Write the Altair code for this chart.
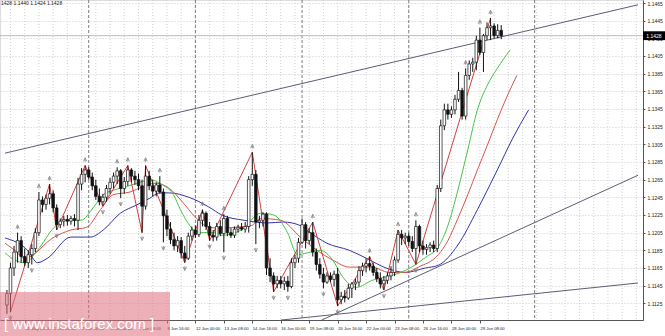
import altair as alt
import pandas as pd

# ---------------- data (H4 candles) ----------------
opens = [1.1123,1.1136,1.1165,1.1183,1.1196,1.1178,1.1171,1.1180,1.1187,1.1205,
         1.1242,1.1237,1.1244,1.1249,1.1233,1.1214,1.1218,1.1220,1.1218,1.1221,
         1.1219,1.1260,1.1271,1.1276,1.1268,1.1258,1.1246,1.1240,1.1245,1.1255,
         1.1262,1.1269,1.1275,1.1255,1.1263,1.1276,1.1269,1.1265,1.1258,1.1235,
         1.1269,1.1258,1.1252,1.1259,1.1251,1.1224,1.1209,1.1197,1.1190,1.1196,
         1.1182,1.1176,1.1201,1.1208,1.1203,1.1219,1.1227,1.1212,1.1202,1.1200,
         1.1212,1.1204,1.1221,1.1205,1.1202,1.1209,1.1211,1.1209,1.1212,1.1265,
         1.1271,1.1217,1.1219,1.1226,1.1165,1.1156,1.1147,1.1151,1.1147,1.1150,
         1.1144,1.1171,1.1176,1.1194,1.1214,1.1196,1.1205,1.1183,1.1169,1.1158,
         1.1149,1.1156,1.1152,1.1158,1.1129,1.1133,1.1131,1.1142,1.1147,1.1149,
         1.1162,1.1167,1.1170,1.1167,1.1160,1.1153,1.1147,1.1151,1.1156,1.1160,
         1.1174,1.1203,1.1199,1.1201,1.1195,1.1187,1.1212,1.1190,1.1186,1.1188,
         1.1191,1.1187,1.1255,1.1326,1.1344,1.1339,1.1344,1.1356,1.1366,1.1337,
         1.1383,1.1396,1.1398,1.1423,1.1409,1.1428,1.1437,1.1439,1.1428,1.1434]
highs = [1.1140,1.1171,1.1190,1.1205,1.1201,1.1187,1.1185,1.1192,1.1210,1.1251,
         1.1246,1.1248,1.1260,1.1253,1.1237,1.1221,1.1224,1.1225,1.1224,1.1226,
         1.1267,1.1278,1.1281,1.1279,1.1273,1.1265,1.1255,1.1249,1.1259,1.1267,
         1.1273,1.1279,1.1277,1.1268,1.1281,1.1278,1.1275,1.1272,1.1265,1.1281,
         1.1275,1.1265,1.1262,1.1269,1.1255,1.1231,1.1217,1.1205,1.1201,1.1200,
         1.1190,1.1205,1.1212,1.1213,1.1225,1.1231,1.1229,1.1217,1.1208,1.1216,
         1.1219,1.1226,1.1224,1.1210,1.1212,1.1214,1.1216,1.1217,1.1269,1.1296,
         1.1276,1.1224,1.1228,1.1228,1.1176,1.1160,1.1156,1.1156,1.1155,1.1156,
         1.1176,1.1180,1.1199,1.1221,1.1217,1.1210,1.1217,1.1187,1.1176,1.1165,
         1.1160,1.1160,1.1162,1.1165,1.1138,1.1140,1.1147,1.1149,1.1153,1.1167,
         1.1171,1.1176,1.1178,1.1171,1.1165,1.1160,1.1156,1.1160,1.1167,1.1178,
         1.1208,1.1208,1.1205,1.1205,1.1201,1.1219,1.1214,1.1196,1.1192,1.1194,
         1.1196,1.1259,1.1333,1.1351,1.1351,1.1348,1.1361,1.1387,1.1369,1.1391,
         1.1400,1.1403,1.1428,1.1437,1.1430,1.1443,1.1448,1.1442,1.1441,1.1440]
lows = [1.1113,1.1115,1.1156,1.1171,1.1171,1.1167,1.1165,1.1169,1.1183,1.1201,
        1.1228,1.1231,1.1237,1.1228,1.1208,1.1210,1.1212,1.1213,1.1214,1.1212,
        1.1208,1.1253,1.1262,1.1265,1.1253,1.1242,1.1236,1.1235,1.1240,1.1249,
        1.1255,1.1260,1.1244,1.1249,1.1258,1.1262,1.1259,1.1253,1.1205,1.1231,
        1.1253,1.1246,1.1246,1.1249,1.1194,1.1201,1.1192,1.1185,1.1183,1.1176,
        1.1171,1.1174,1.1196,1.1199,1.1200,1.1212,1.1208,1.1196,1.1195,1.1196,
        1.1201,1.1183,1.1201,1.1199,1.1199,1.1205,1.1207,1.1205,1.1205,1.1258,
        1.1192,1.1210,1.1212,1.1157,1.1149,1.1138,1.1142,1.1142,1.1140,1.1138,
        1.1142,1.1165,1.1171,1.1192,1.1187,1.1192,1.1178,1.1162,1.1153,1.1142,
        1.1147,1.1149,1.1144,1.1122,1.1124,1.1126,1.1129,1.1131,1.1140,1.1144,
        1.1156,1.1160,1.1162,1.1156,1.1149,1.1142,1.1140,1.1147,1.1151,1.1156,
        1.1171,1.1191,1.1192,1.1190,1.1183,1.1169,1.1183,1.1180,1.1180,1.1183,
        1.1183,1.1183,1.1251,1.1321,1.1333,1.1335,1.1339,1.1353,1.1333,1.1333,
        1.1378,1.1387,1.1389,1.1406,1.1387,1.1423,1.1423,1.1425,1.1425,1.1424]
closes = [1.1136,1.1165,1.1183,1.1196,1.1178,1.1171,1.1180,1.1187,1.1205,1.1242,
          1.1237,1.1244,1.1249,1.1233,1.1214,1.1218,1.1220,1.1218,1.1221,1.1219,
          1.1260,1.1271,1.1276,1.1268,1.1258,1.1246,1.1240,1.1245,1.1255,1.1262,
          1.1269,1.1275,1.1255,1.1263,1.1276,1.1269,1.1265,1.1258,1.1235,1.1269,
          1.1258,1.1252,1.1259,1.1251,1.1224,1.1209,1.1197,1.1190,1.1196,1.1182,
          1.1176,1.1201,1.1208,1.1203,1.1219,1.1227,1.1212,1.1202,1.1200,1.1212,
          1.1204,1.1221,1.1205,1.1202,1.1209,1.1211,1.1209,1.1212,1.1265,1.1271,
          1.1217,1.1219,1.1226,1.1165,1.1156,1.1147,1.1151,1.1147,1.1150,1.1144,
          1.1171,1.1176,1.1194,1.1214,1.1196,1.1205,1.1183,1.1169,1.1158,1.1149,
          1.1156,1.1152,1.1158,1.1129,1.1133,1.1131,1.1142,1.1147,1.1149,1.1162,
          1.1167,1.1170,1.1167,1.1160,1.1153,1.1147,1.1151,1.1156,1.1160,1.1174,
          1.1203,1.1199,1.1201,1.1195,1.1187,1.1212,1.1190,1.1186,1.1188,1.1191,
          1.1187,1.1255,1.1326,1.1344,1.1339,1.1344,1.1356,1.1366,1.1337,1.1383,
          1.1396,1.1398,1.1423,1.1409,1.1428,1.1437,1.1439,1.1428,1.1434,1.1428]

tick_bars = [5, 13, 21, 29, 37, 45, 53, 61, 69, 77, 85, 93, 101, 109, 117, 125, 133]
tick_labels = ["31 May 00:00", "1 Jun 08:00", "2 Jun 16:00", "6 Jun 00:00", "7 Jun 08:00",
               "8 Jun 16:00", "12 Jun 00:00", "13 Jun 08:00", "14 Jun 16:00", "16 Jun 00:00",
               "19 Jun 08:00", "20 Jun 16:00", "22 Jun 00:00", "23 Jun 08:00", "26 Jun 16:00",
               "28 Jun 00:00", "29 Jun 08:00"]
price_ticks = [1.1105, 1.1125, 1.1145, 1.1165, 1.1185, 1.1205, 1.1225, 1.1245, 1.1265, 1.1285,
               1.1305, 1.1325, 1.1345, 1.1365, 1.1385, 1.1405, 1.1425, 1.1445, 1.1465]

up_fractals = [3, 9, 12, 22, 31, 34, 39, 43, 55, 61, 69, 86, 102, 110, 115, 129, 133, 136]
down_fractals = [1, 7, 14, 27, 32, 38, 44, 50, 57, 61, 70, 75, 79, 89, 93, 106, 115]

zigzag_bars = [1, 12, 14, 22, 27, 34, 38, 39, 50, 55, 57, 69, 75, 86, 93, 102, 106, 110, 115, 136]
zigzag_prices = [1.1115, 1.1260, 1.1208, 1.1281, 1.1235, 1.1281, 1.1205, 1.1281, 1.1171, 1.1231,
                 1.1196, 1.1296, 1.1138, 1.1217, 1.1122, 1.1178, 1.1140, 1.1208, 1.1169, 1.1448]

# Alligator (jaw blue, teeth red, lips green), shifted forward
jaw_bars = [-0.5, 5.8, 8.6, 11.4, 18.0, 23.5, 27.1, 31.9, 36.3, 40.2, 42.9, 45.7, 51.2, 56.8, 60.4,
            66.7, 73.4, 77.8, 82.5, 85.3, 90.0, 96.3, 101.1, 106.6, 112.1, 117.7, 121.3, 126.8,
            132.3, 137.9, 142.0, 146.7]
jaw_prices = [1.1199, 1.1185, 1.1171, 1.1176, 1.1200, 1.1200, 1.1208, 1.1227, 1.1236, 1.1244,
              1.1250, 1.1250, 1.1245, 1.1234, 1.1225, 1.1219, 1.1216, 1.1217, 1.1213, 1.1205,
              1.1193, 1.1185, 1.1176, 1.1165, 1.1160, 1.1165, 1.1168, 1.1191, 1.1231, 1.1276,
              1.1310, 1.1344]
teeth_bars = [-0.5, 2.2, 5.0, 13.3, 18.0, 22.4, 26.3, 29.9, 34.6, 38.2, 41.8, 45.7, 49.3, 52.9,
              56.8, 60.4, 64.0, 68.7, 71.4, 77.0, 82.5, 87.2, 91.6, 96.3, 102.7, 107.4, 112.1,
              115.7, 121.3, 124.0, 126.8, 129.6, 132.3, 135.1, 137.9, 140.6, 143.4]
teeth_prices = [1.1193, 1.1185, 1.1176, 1.1200, 1.1208, 1.1211, 1.1231, 1.1248, 1.1251, 1.1257,
                1.1261, 1.1255, 1.1240, 1.1223, 1.1211, 1.1210, 1.1211, 1.1213, 1.1221, 1.1219,
                1.1200, 1.1185, 1.1174, 1.1166, 1.1166, 1.1160, 1.1160, 1.1166, 1.1180, 1.1196,
                1.1221, 1.1248, 1.1276, 1.1304, 1.1333, 1.1359, 1.1383]
lips_bars = [-0.5, 2.2, 5.0, 8.6, 13.3, 16.1, 20.8, 24.4, 27.1, 29.9, 33.5, 37.4, 40.2, 43.8,
             46.5, 49.3, 52.6, 54.8, 58.4, 60.4, 65.9, 71.4, 75.0, 78.9, 81.7, 84.4, 88.1, 91.6,
             94.4, 98.3, 102.7, 106.6, 110.2, 113.8, 117.7, 121.3, 124.0, 126.8, 129.6, 132.3,
             135.1, 137.9, 141.5]
lips_prices = [1.1182, 1.1174, 1.1171, 1.1185, 1.1211, 1.1219, 1.1219, 1.1234, 1.1248, 1.1253,
               1.1257, 1.1262, 1.1265, 1.1259, 1.1250, 1.1227, 1.1208, 1.1205, 1.1205, 1.1202,
               1.1208, 1.1227, 1.1225, 1.1205, 1.1180, 1.1182, 1.1185, 1.1174, 1.1155, 1.1143,
               1.1151, 1.1155, 1.1159, 1.1166, 1.1177, 1.1189, 1.1213, 1.1253, 1.1299, 1.1344,
               1.1372, 1.1391, 1.1412]

trend_a_bars = [-0.54, 177.46]
trend_a_prices = [1.1295, 1.1463]
trend_b_bars = [88.5, 177.46]
trend_b_prices = [1.1106, 1.1270]
trend_c_bars = [77.0, 177.46]
trend_c_prices = [1.1106, 1.1148]

separators = [23, 53, 83, 113, 148.4]
grid_bars = list(range(1, 178, 4))

current_price = 1.1428
header = "1428 1.1440 1.1424 1.1428"
watermark = "[ www.instaforex.com ]"

# ---------------- chart ----------------
XD = [-0.537, 177.46]
YD = [1.11061, 1.14684]
xs = alt.Scale(domain=XD, nice=False, zero=False)
ys = alt.Scale(domain=YD, nice=False, zero=False)
FONT = "Liberation Sans"

candles = pd.DataFrame({"bar": list(range(len(opens))), "open": opens, "high": highs,
                        "low": lows, "close": closes})
candles["dir"] = ["up" if c >= o else "down" for o, c in zip(opens, closes)]

label_expr = " : ".join(f"datum.value == {b} ? '{l}'" for b, l in zip(tick_bars, tick_labels)) + " : ''"

x_axis = alt.Axis(values=tick_bars, labelExpr=label_expr, grid=False, labelAlign="left",
                  labelFontSize=4.2, labelFont=FONT, labelColor="#222", labelPadding=3,
                  tickSize=3, tickColor="#555", domainColor="#555", title=None,
                  labelOverlap=False, labelFlush=False)
y_axis = alt.Axis(values=price_ticks, format=".4f", orient="right", grid=True,
                  gridColor="#cdcdcd", gridDash=[1, 2], labelFontSize=5, labelFont=FONT,
                  labelColor="#222", labelPadding=2, tickSize=2, tickColor="#555",
                  domainColor="#555", title=None, labelOverlap=False, labelFlush=False)


def X(field):
    return alt.X(field, type="quantitative", scale=xs, axis=x_axis)


def Y(field):
    return alt.Y(field, type="quantitative", scale=ys, axis=y_axis)


wicks = alt.Chart(candles).mark_rule(color="#111", strokeWidth=1).encode(
    x=X("bar"), y=Y("low"), y2="high")

bodies = alt.Chart(candles).mark_bar(width=2.6, stroke="#111", strokeWidth=0.7).encode(
    x=X("bar"), y=Y("open"), y2="close",
    fill=alt.Fill("dir:N", scale=alt.Scale(domain=["up", "down"], range=["#ffffff", "#111111"]),
                  legend=None))

vgrid = alt.Chart(pd.DataFrame({"bar": grid_bars})).mark_rule(
    color="#d2d2d2", strokeDash=[1, 2], strokeWidth=1).encode(x=X("bar"))

seps = alt.Chart(pd.DataFrame({"bar": separators})).mark_rule(
    color="#7c7c7c", strokeDash=[3, 2], strokeWidth=1).encode(x=X("bar"))

price_line = alt.Chart(pd.DataFrame({"p": [current_price]})).mark_rule(
    color="#bdbdbd", strokeWidth=1).encode(y=Y("p"))

trend_df = pd.DataFrame({
    "bar": trend_a_bars + trend_b_bars + trend_c_bars,
    "price": trend_a_prices + trend_b_prices + trend_c_prices,
    "line": ["a"] * 2 + ["b"] * 2 + ["c"] * 2})
trends = alt.Chart(trend_df).mark_line(color="#5c5c78", strokeWidth=1, clip=True).encode(
    x=X("bar"), y=Y("price"), detail="line:N")

ma_df = pd.DataFrame({
    "bar": jaw_bars + teeth_bars + lips_bars,
    "price": jaw_prices + teeth_prices + lips_prices,
    "series": ["jaw"] * len(jaw_bars) + ["teeth"] * len(teeth_bars) + ["lips"] * len(lips_bars)})
mas = alt.Chart(ma_df).mark_line(strokeWidth=1, clip=True, interpolate="monotone").encode(
    x=X("bar"), y=Y("price"),
    color=alt.Color("series:N", scale=alt.Scale(domain=["jaw", "teeth", "lips"],
                                                range=["#3434a8", "#d9534a", "#45c645"]),
                    legend=None),
    detail="series:N")

zz = alt.Chart(pd.DataFrame({"bar": zigzag_bars, "price": zigzag_prices})).mark_line(
    color="#d04040", strokeWidth=1, clip=True).encode(x=X("bar"), y=Y("price"))

up_df = pd.DataFrame({"bar": up_fractals, "price": [highs[i] for i in up_fractals]})
dn_df = pd.DataFrame({"bar": down_fractals, "price": [lows[i] for i in down_fractals]})
up_pts = alt.Chart(up_df).mark_point(
    shape="M-0.7,0.8L0,-0.8L0.7,0.8M0,-0.2L0,1", filled=False, size=22, color="#7a7a7a",
    strokeWidth=0.8, yOffset=-6, opacity=1).encode(x=X("bar"), y=Y("price"))
dn_pts = alt.Chart(dn_df).mark_point(
    shape="M-0.7,-0.8L0,0.8L0.7,-0.8M0,0.2L0,-1", filled=False, size=22, color="#7a7a7a",
    strokeWidth=0.8, yOffset=6, opacity=1).encode(x=X("bar"), y=Y("price"))

cp_df = pd.DataFrame({"p": [current_price], "t": [f"{current_price:.4f}"]})
cp_box = alt.Chart(cp_df).mark_point(
    shape="M-1,-0.4L1,-0.4L1,0.4L-1,0.4Z", filled=True, size=484, color="#000",
    opacity=1).encode(x=alt.value(654), y=Y("p"))
cp_txt = alt.Chart(cp_df).mark_text(color="white", fontSize=5, font=FONT).encode(
    x=alt.value(654), y=Y("p"), text="t:N")

head = alt.Chart(pd.DataFrame({"t": [header]})).mark_text(
    align="left", baseline="top", fontSize=5, font=FONT, color="#222").encode(
    x=alt.value(1), y=alt.value(1), text="t:N")

wm_df = pd.DataFrame({"t": [watermark]})
wm_box = alt.Chart(wm_df).mark_rect(color="#e0707e", opacity=0.55).encode(
    x=alt.value(0), x2=alt.value(170), y=alt.value(292), y2=alt.value(336))
wm_txt = alt.Chart(wm_df).mark_text(
    align="left", baseline="alphabetic", fontSize=15, font=FONT,
    color="white").encode(x=alt.value(4), y=alt.value(329), text="t:N")

chart = alt.layer(
    vgrid, seps, price_line, trends, mas, zz, wicks, bodies,
    up_pts, dn_pts, cp_box, cp_txt, head, wm_box, wm_txt
).properties(
    width=643, height=320,
    autosize=alt.AutoSizeParams(type="none"),
    padding={"left": 0, "top": 0, "right": 22, "bottom": 16}
).configure_view(stroke=None).configure(background="white")

chart.save("out.html", embed_options={"renderer": "svg", "actions": False})
